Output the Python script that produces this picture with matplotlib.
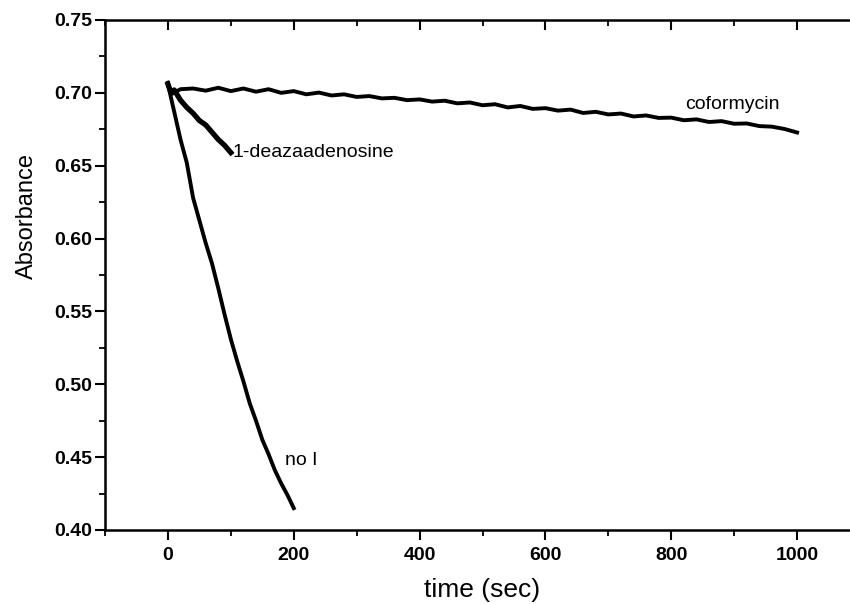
import matplotlib
matplotlib.use("Agg")
import matplotlib.pyplot as plt
from matplotlib.ticker import MultipleLocator, FormatStrFormatter

plt.rcParams['font.family'] = ['Liberation Sans', 'DejaVu Sans']

# --- data ---
cof_t = [0, 5, 20, 40, 60, 80, 100, 120, 140, 160, 180, 200, 220, 240, 260, 280,
         300, 320, 340, 360, 380, 400, 420, 440, 460, 480, 500, 520, 540, 560,
         580, 600, 620, 640, 660, 680, 700, 720, 740, 760, 780, 800, 820, 840,
         860, 880, 900, 920, 940, 960, 980, 1000]
cof_a = [0.707, 0.699, 0.7025, 0.7030, 0.7015, 0.7035, 0.7012, 0.7030, 0.7008,
         0.7025, 0.7000, 0.7012, 0.6990, 0.7002, 0.6982, 0.6990, 0.6972, 0.6978,
         0.6962, 0.6966, 0.6950, 0.6955, 0.6940, 0.6946, 0.6928, 0.6934, 0.6915,
         0.6922, 0.6900, 0.6910, 0.6890, 0.6895, 0.6878, 0.6885, 0.6862, 0.6870,
         0.6852, 0.6858, 0.6838, 0.6845, 0.6828, 0.6830, 0.6812, 0.6818, 0.6800,
         0.6806, 0.6788, 0.6790, 0.6772, 0.6768, 0.6752, 0.6728]

dea_t = [0, 5, 10, 20, 30, 40, 50, 60, 70, 80, 90, 100]
dea_a = [0.706, 0.700, 0.702, 0.695, 0.690, 0.686, 0.681, 0.678, 0.673, 0.668,
         0.664, 0.659]

noi_t = [0, 10, 20, 30, 40, 50, 60, 70, 80, 90, 100, 110, 120, 130, 140, 150,
         160, 170, 180, 190, 200]
noi_a = [0.706, 0.687, 0.668, 0.652, 0.628, 0.6125, 0.597, 0.583, 0.566, 0.548,
         0.531, 0.516, 0.502, 0.487, 0.475, 0.462, 0.452, 0.441, 0.432, 0.424,
         0.415]

labels = ["coformycin", "1-deazaadenosine", "no I"]
label_pos = [(822, 0.6917), (102, 0.6594), (186, 0.448)]

fig = plt.figure(figsize=(8.5, 6.04), dpi=100)
ax = fig.add_axes([105/850, 74/604, 755/850, 510/604])

ax.plot(cof_t, cof_a, color='black', lw=2.8)
ax.plot(dea_t, dea_a, color='black', lw=3.8)
ax.plot(noi_t, noi_a, color='black', lw=2.8)

for txt, (x, y) in zip(labels, label_pos):
    ax.text(x, y, txt, fontsize=14, va='center', ha='left')

ax.set_xlim(-100, 1100)
ax.set_ylim(0.40, 0.75)
ax.xaxis.set_major_locator(MultipleLocator(200))
ax.xaxis.set_minor_locator(MultipleLocator(100))
ax.yaxis.set_major_locator(MultipleLocator(0.05))
ax.yaxis.set_minor_locator(MultipleLocator(0.025))
ax.yaxis.set_major_formatter(FormatStrFormatter('%.2f'))

for s in ['left', 'bottom', 'top']:
    ax.spines[s].set_linewidth(1.8)
ax.spines['right'].set_visible(False)

ax.tick_params(axis='x', which='major', direction='out', length=7, width=1.5,
               top=False, labelsize=14, pad=5)
ax.tick_params(axis='x', which='minor', direction='out', length=4, width=1.3, top=False)
ax.tick_params(axis='y', which='major', direction='out', length=7, width=1.5,
               right=False, labelsize=14, pad=2)
ax.tick_params(axis='y', which='minor', direction='out', length=4, width=1.3, right=False)

# inward top ticks
sec = ax.secondary_xaxis('top')
sec.xaxis.set_major_locator(MultipleLocator(200))
sec.xaxis.set_minor_locator(MultipleLocator(100))
sec.tick_params(which='major', direction='in', length=7, width=1.5, labeltop=False)
sec.tick_params(which='minor', direction='in', length=4, width=1.3)
sec.spines['top'].set_visible(False)

for lab in ax.get_xticklabels() + ax.get_yticklabels():
    lab.set_fontweight('bold')

ax.set_xlabel('time (sec)', fontsize=19, labelpad=10)
ax.set_ylabel('Absorbance', fontsize=17, labelpad=5)
ax.yaxis.set_label_coords(-0.089, 0.615)

fig.savefig('out.png', dpi=100)
